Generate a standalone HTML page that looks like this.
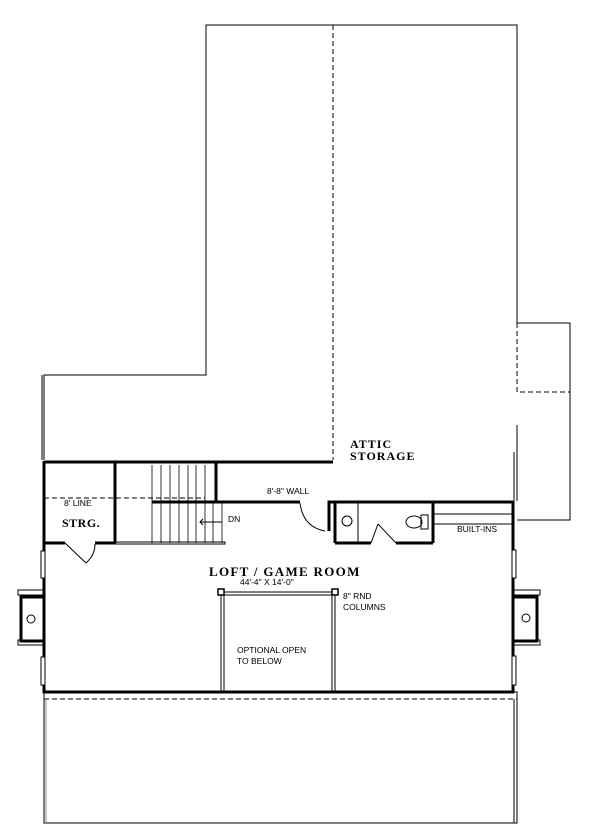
<!DOCTYPE html>
<html><head><style>body{margin:0;background:#fff}svg{display:block}
.s{font-family:"Liberation Sans",sans-serif;font-size:8.5px;fill:#000}
.b{font-family:"Liberation Serif",serif;font-weight:bold;fill:#000}</style></head><body>
<svg width="600" height="835" viewBox="0 0 600 835" xmlns="http://www.w3.org/2000/svg">
<g fill="none" stroke="#000" stroke-width="1">
<polyline points="44,460 44,375 206,375 206,25 517,25 517,323 570,323 570,520 517,520"/>
<line x1="42" y1="375" x2="42" y2="460"/>
<line x1="333" y1="25" x2="333" y2="460" stroke-dasharray="5,3"/>
<polyline points="517,323 517,392 570,392" stroke-dasharray="5,3"/>
<line x1="517" y1="425" x2="517" y2="501"/>
<line x1="514" y1="452" x2="514" y2="501"/>
<g stroke-width="3">
<line x1="44" y1="462" x2="333" y2="462"/>
<line x1="44" y1="461" x2="44" y2="693"/>
<line x1="513" y1="501" x2="513" y2="693"/>
<line x1="43" y1="692" x2="514" y2="692"/>
<line x1="115" y1="462" x2="115" y2="543"/>
<line x1="44" y1="543" x2="65" y2="543"/>
<line x1="95" y1="543" x2="116" y2="543"/>
<line x1="216" y1="462" x2="216" y2="502"/>
<line x1="152" y1="502" x2="300" y2="502"/>
<polyline points="329,531 329,502 335,502 513,502"/>
<line x1="335" y1="502" x2="335" y2="543"/>
<line x1="433" y1="502" x2="433" y2="543"/>
<line x1="335" y1="543" x2="371" y2="543"/>
<line x1="396" y1="543" x2="433" y2="543"/>
</g>
<line x1="44" y1="498" x2="205" y2="498" stroke-dasharray="5,3"/>
<polyline points="65,543 86,563"/>
<path d="M86,563 Q95,555 95,544"/>
<g stroke-width="0.8">
<line x1="152" y1="465" x2="152" y2="543"/><line x1="161" y1="465" x2="161" y2="543"/>
<line x1="170" y1="465" x2="170" y2="543"/><line x1="179" y1="465" x2="179" y2="543"/>
<line x1="188" y1="465" x2="188" y2="543"/><line x1="196" y1="465" x2="196" y2="543"/>
<line x1="205" y1="465" x2="205" y2="543"/><line x1="213" y1="502" x2="213" y2="543"/>
<line x1="222" y1="502" x2="222" y2="543"/>
</g>
<rect x="115" y="542" width="110" height="2"/>
<line x1="200" y1="522" x2="222" y2="522"/>
<polyline points="203,519 200,522 203,525"/>
<path d="M300,503 Q303,527 325,531"/>
<line x1="358" y1="503" x2="358" y2="543"/>
<circle cx="347" cy="521" r="5"/>
<line x1="371" y1="543" x2="378" y2="524"/><line x1="378" y1="524" x2="396" y2="543"/>
<ellipse cx="414" cy="522" rx="8" ry="6"/>
<rect x="421" y="515" width="7" height="14"/>
<line x1="433" y1="514" x2="513" y2="514"/><line x1="433" y1="524" x2="513" y2="524"/>
<rect x="18" y="590" width="26" height="5"/><rect x="18" y="640" width="26" height="5"/>
<rect x="21" y="597" width="23" height="44" stroke-width="3"/>
<circle cx="31" cy="619" r="4"/>
<rect x="513" y="590" width="27" height="5"/><rect x="513" y="640" width="27" height="5"/>
<rect x="513" y="597" width="24" height="44" stroke-width="3"/>
<circle cx="526" cy="618" r="4"/>
<rect x="41" y="551" width="4" height="27" fill="#fff"/><rect x="41" y="657" width="4" height="28" fill="#fff"/>
<rect x="512" y="550" width="4" height="28" fill="#fff"/><rect x="512" y="656" width="4" height="29" fill="#fff"/>
<line x1="221" y1="592" x2="334" y2="592"/><line x1="221" y1="595" x2="334" y2="595"/>
<line x1="221" y1="592" x2="221" y2="692"/><line x1="224" y1="595" x2="224" y2="692"/>
<line x1="332" y1="595" x2="332" y2="692"/><line x1="335" y1="592" x2="335" y2="692"/>
<rect x="218" y="589" width="6" height="6" fill="#fff" stroke-width="1.5"/>
<rect x="332" y="589" width="6" height="6" fill="#fff" stroke-width="1.5"/>
<line x1="44" y1="699" x2="517" y2="699" stroke-dasharray="5,3"/>
<rect x="44" y="692" width="473" height="131"/>
<line x1="514" y1="699" x2="514" y2="823"/>
<line x1="46" y1="699" x2="46" y2="823" stroke="#888"/>
</g>
<text class="b" x="350" y="448" font-size="12" letter-spacing="1">ATTIC</text>
<text class="b" x="350" y="460" font-size="12" letter-spacing="1">STORAGE</text>
<text class="s" x="64" y="506">8' LINE</text>
<text class="b" x="62" y="527" font-size="12" letter-spacing="0.5">STRG.</text>
<text class="s" x="228" y="522">DN</text>
<text class="s" x="267" y="494">8'-8" WALL</text>
<text class="s" x="457" y="532">BUILT-INS</text>
<text class="b" x="209" y="576" font-size="13" letter-spacing="1.3">LOFT / GAME ROOM</text>
<text class="s" x="240" y="585" font-size="9.5">44'-4" X 14'-0"</text>
<text class="s" x="343" y="599">8" RND</text>
<text class="s" x="343" y="610">COLUMNS</text>
<text class="s" x="237" y="653">OPTIONAL OPEN</text>
<text class="s" x="237" y="664">TO BELOW</text>
</svg>
</body></html>
